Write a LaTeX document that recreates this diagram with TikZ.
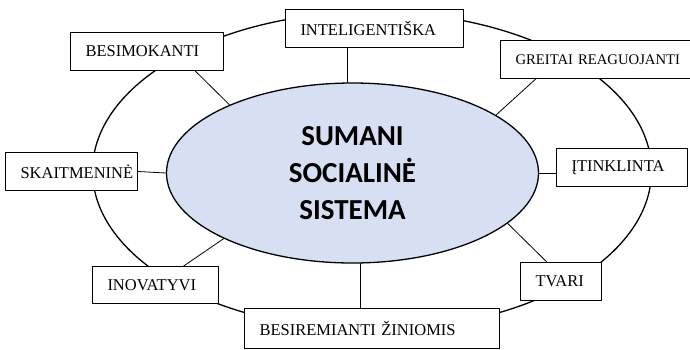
\documentclass[tikz,border=0pt]{standalone}
\usepackage{fontspec}
\usepackage{tikz}
\usetikzlibrary{shapes.geometric}
\setmainfont{Liberation Serif}
\newfontfamily\corefont{Carlito}
\definecolor{coreblue}{RGB}{214,224,242}

\begin{document}
\begin{tikzpicture}[line cap=round,line join=round,x=1pt,y=-1pt,
        box/.style={draw,fill=white,line width=1pt,anchor=north west,inner xsep=15pt,inner ysep=0pt,
            minimum height=38pt,align=left,font=\fontsize{16.5}{19}\selectfont},
        spoke/.style={line width=0.8pt},
        core/.style={draw,ellipse,line width=1.3pt,fill=coreblue,inner sep=0pt,
            minimum width=372pt,minimum height=180pt,align=center,
            font=\corefont\bfseries\fontsize{29}{37}\selectfont}]
        \clip (0,0) rectangle (690,349);
        \draw [line width=1.3pt] (372,171) ellipse [x radius=279.5pt, y radius=159pt];
        \node [core] (core) at (352.5,173) {SUMANI\\SOCIALINĖ\\SISTEMA};
        \node [box,text width=148pt] (intel) at (285,9) {INTELIGENTIŠKA};
        \node [box,text width=123pt] (besim) at (70,32) {BESIMOKANTI};
        \node [box,text width=168pt,font=\fontsize{14.7}{17}\selectfont] (greitai) at (500,40) {GREITAI REAGUOJANTI};
        \node [box,text width=102pt] (skait) at (5,152) {SKAITMENINĖ};
        \node [box,text width=101pt] (itinkl) at (556,148) {ĮTINKLINTA};
        \node [box,text width=96pt,minimum height=37pt] (inov) at (92,266) {INOVATYVI};
        \node [box,text width=51pt] (tvari) at (520,262) {TVARI};
        \node [box,text width=225pt,minimum height=40pt] (besir) at (244,308) {BESIREMIANTI ŽINIOMIS};
        \draw [spoke] (core.151) -- (besim.-22);
        \draw [spoke] (core.93) -- (core.93 |- intel.south);
        \draw [spoke] (core.22) -- (greitai.197);
        \draw [spoke] (core.0) -- (core.0 -| itinkl.west);
        \draw [spoke] (core.180) -- (skait.east);
        \draw [spoke] (core.207) -- (inov.34);
        \draw [spoke] (core.275) -- (core.275 |- besir.north);
        \draw [spoke] (core.-18) -- (tvari.126);
    \end{tikzpicture}
\end{document}
